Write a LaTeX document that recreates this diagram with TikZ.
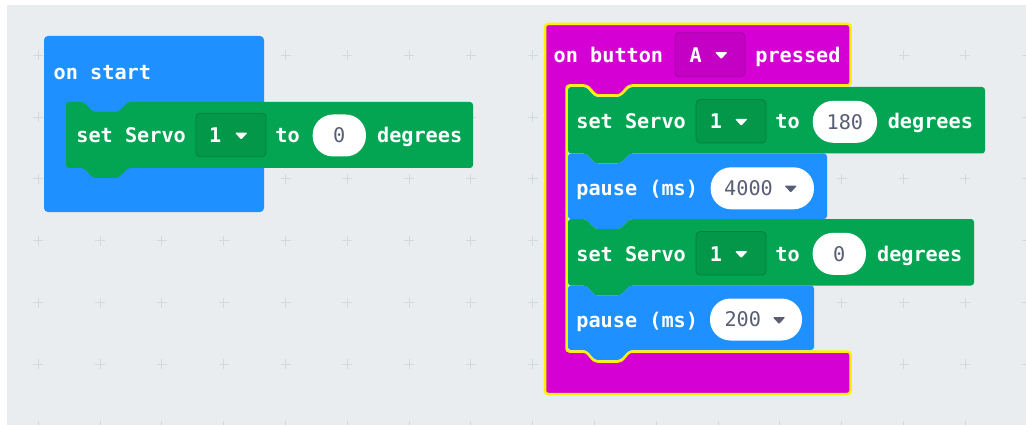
\documentclass[tikz,border=0pt]{standalone}
\usepackage{fontspec}
\newfontfamily\blockfont{DejaVu Sans Mono}
\definecolor{workspace}{HTML}{E9EDEF}
\definecolor{gridmark}{HTML}{D3D8DB}
\definecolor{basicblue}{HTML}{1E90FF}
\definecolor{servogreen}{HTML}{04A552}
\definecolor{servofield}{HTML}{039749}
\definecolor{servoline}{HTML}{02803D}
\definecolor{inputmag}{HTML}{D400D4}
\definecolor{inputfield}{HTML}{C300C3}
\definecolor{inputline}{HTML}{A600A6}
\definecolor{glow}{HTML}{FFF200}
\definecolor{numgray}{HTML}{575E75}
\tikzset{
  lbl/.style={font=\blockfont\bfseries\fontsize{20.2}{24}\selectfont, text=white, inner sep=0pt, anchor=base west},
  num/.style={font=\blockfont\fontsize{20.2}{24}\selectfont, text=numgray, inner sep=0pt},
  numw/.style={num, anchor=base west},
  ovalbox/.style={fill=white, rounded corners=20.5pt, inner sep=0pt, minimum height=42pt},
  ddgreen/.style={fill=servofield, draw=servoline, line width=0.8pt, rounded corners=4pt, inner sep=0pt, minimum width=70pt, minimum height=43.5pt},
  ddmag/.style={fill=inputfield, draw=inputline, line width=0.8pt, rounded corners=4pt, inner sep=0pt, minimum width=70pt, minimum height=44pt},
  stmtshape/.style={rounded corners=3pt},
}
% statement block with a notch on top and a tab below
% #1 colour, #2 left x, #3 top y, #4 right x, #5 bottom y
\newcommand\stmtblock[5]{%
  \fill[#1, stmtshape] (#2,#3) -- ({#2+18},#3) -- ({#2+27},{#3+10}) -- ({#2+52},{#3+10}) -- ({#2+62},#3)
    -- (#4,#3) -- (#4,#5) -- ({#2+62},#5) -- ({#2+52},{#5+10}) -- ({#2+27},{#5+10}) -- ({#2+18},#5)
    -- (#2,#5) -- cycle;}
% small drop-down arrow, #1 colour, #2 left x, #3 centre y
\newcommand\ddarrow[3]{%
  \fill[#1, rounded corners=1pt] (#2,{#3-2.8}) -- ({#2+12.5},{#3-2.8}) -- ({#2+6.25},{#3+4}) -- cycle;}

\begin{document}
\begin{tikzpicture}[x=1pt, y=-1pt]
\useasboundingbox (0,0) rectangle (1026,425);
\fill[white] (0,0) rectangle (1026,425);
\fill[workspace] (7,5) rectangle (1026,425);

% workspace grid
\foreach \i in {0,...,16}{
  \foreach \j in {0,...,6}{
    \draw[gridmark, line width=0.9pt] ({38.3+61.8*\i-5},{55.3+61.8*\j}) -- ++(10,0);
    \draw[gridmark, line width=0.9pt] ({38.3+61.8*\i},{55.3+61.8*\j-5}) -- ++(0,10);
  }}

% ---------- on start ----------
\fill[basicblue, rounded corners=4pt] (44,36) rectangle (264,212);
\node[lbl] (onstart) at (53.5,79.5) {on start};
\stmtblock{servogreen}{66}{102}{473}{168}
\node[lbl] (set0) at (76.2,142.5) {set Servo};
\node[ddgreen] (dd0) at (231,135) {};
\node[lbl] (dd0t) at (209,142.5) {1};
\ddarrow{white}{235}{135.5}
\node[lbl] (to0) at (275.2,142.5) {to};
\node[ovalbox, minimum width=53.3pt] (v0) at (339.3,135.5) {};
\node[num] (v0t) at (v0.center) {0};
\node[lbl] (deg0) at (376.9,142.5) {degrees};

% ---------- on button A pressed ----------
% statements inside the handler
\stmtblock{servogreen}{568}{87}{985}{153.5}
\stmtblock{basicblue}{568}{153.5}{827}{219}
\stmtblock{servogreen}{568}{219}{974}{285.5}
\stmtblock{basicblue}{568}{285.5}{814}{350}

% event block around the statements
\draw[fill=inputmag, draw=glow, line width=2.5pt, rounded corners=3pt]
  (545,24) -- (850.5,24) -- (850.5,85.5) -- (629,85.5) -- (620,95.5) -- (596,95.5) -- (587,85.5)
  -- (566.5,85.5) -- (566.5,351.5) -- (586,351.5) -- (594.5,361.5) -- (621,361.5) -- (629.5,351.5)
  -- (850.5,351.5) -- (850.5,394) -- (545,394) -- cycle;

\node[lbl] (onbtn) at (553.5,62.5) {on button};
\node[ddmag] (ddA) at (710,54.7) {};
\node[lbl] (ddAt) at (689.5,62.5) {A};
\ddarrow{white}{715}{55}
\node[lbl] (pressed) at (755.2,62.5) {pressed};

% set Servo 1 to 180 degrees
\node[lbl] (set1) at (576.2,129) {set Servo};
\node[ddgreen] (dd1) at (731,121.3) {};
\node[lbl] (dd1t) at (709.7,129) {1};
\ddarrow{white}{735}{121.8}
\node[lbl] (to1) at (775.2,129) {to};
\node[ovalbox, minimum width=64.3pt] (v1) at (844.9,121.8) {};
\node[num] (v1t) at (v1.center) {180};
\node[lbl] (deg1) at (887.6,129) {degrees};

% pause (ms) 4000
\node[lbl] (p1) at (576.2,195.5) {pause (ms)};
\node[ovalbox, minimum width=103.3pt] (v2) at (762.3,188.3) {};
\node[numw] (v2t) at (724,195.3) {4000};
\ddarrow{numgray}{784.5}{188.5}

% set Servo 1 to 0 degrees
\node[lbl] (set2) at (576.2,261) {set Servo};
\node[ddgreen] (dd2) at (731,253.3) {};
\node[lbl] (dd2t) at (709.7,261) {1};
\ddarrow{white}{735}{254}
\node[lbl] (to2) at (775.2,261) {to};
\node[ovalbox, minimum width=53.3pt] (v3) at (839.3,253.8) {};
\node[num] (v3t) at (v3.center) {0};
\node[lbl] (deg2) at (876.9,261) {degrees};

% pause (ms) 200
\node[lbl] (p2) at (576.2,327.5) {pause (ms)};
\node[ovalbox, minimum width=92pt] (v4) at (756,319.5) {};
\node[numw] (v4t) at (724.3,326.8) {200};
\ddarrow{numgray}{772.8}{320}
\end{tikzpicture}
\end{document}
